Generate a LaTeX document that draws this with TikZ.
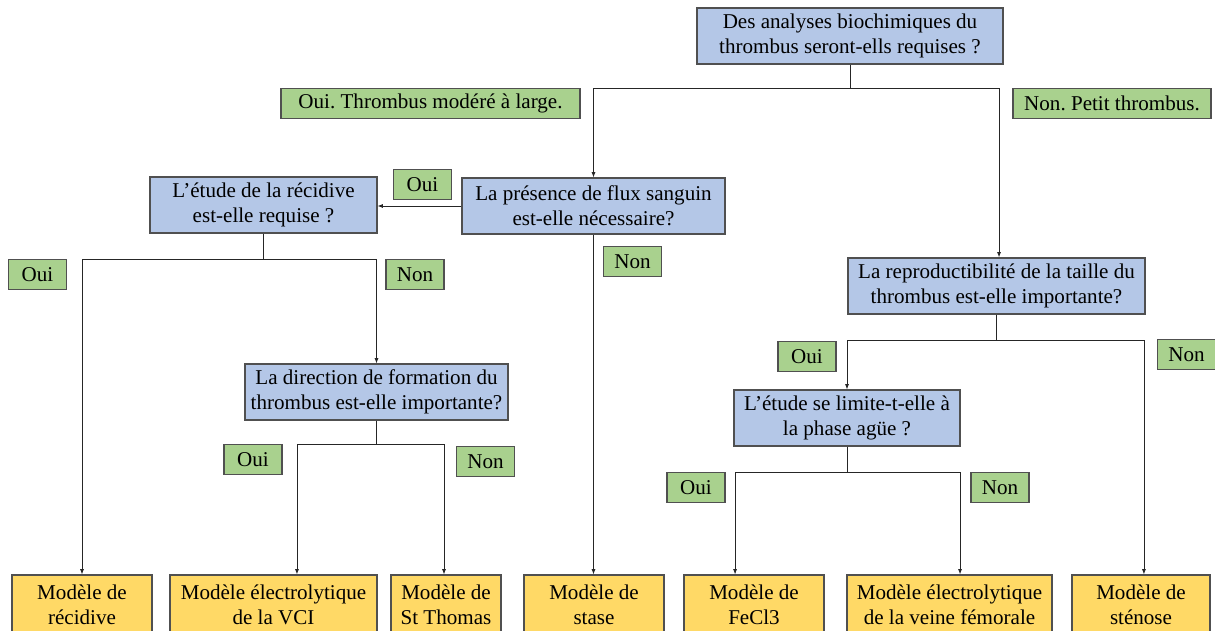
\documentclass[tikz,border=0pt]{standalone}
\usepackage{fontspec}
\setmainfont{Liberation Serif}
\frenchspacing
\usetikzlibrary{arrows.meta, positioning}
\definecolor{qblue}{HTML}{B4C7E7}
\definecolor{ansgreen}{HTML}{A9D18E}
\definecolor{modyellow}{HTML}{FFD966}
\definecolor{edgegray}{HTML}{505050}

\begin{document}
\begin{tikzpicture}[x=0.75pt, y=-0.75pt,
  every node/.style={font=\fontsize{15.8}{18.6}\selectfont, inner sep=1pt},
  question/.style={draw=edgegray, line width=0.8pt, fill=qblue, align=center, minimum height=42pt},
  answer/.style={draw=edgegray, line width=0.8pt, fill=ansgreen, minimum height=23pt, minimum width=43.5pt},
  model/.style={draw=edgegray, line width=0.8pt, fill=modyellow, align=center, minimum height=45pt},
  arr/.style={-{Latex[length=4pt,width=3pt]}, line width=0.6pt, black!85}]
\useasboundingbox (0,0) rectangle (1215,631);

% Questions
\node[question, minimum width=229.5pt] (q1) at (850,36) {Des analyses biochimiques du\\thrombus seront-ells requises ?};
\node[question, minimum width=197.25pt] (q2) at (593.5,206) {La présence de flux sanguin\\est-elle nécessaire?};
\node[question, minimum width=170.25pt] (q3) at (263.5,205) {L’étude de la récidive\\est-elle requise ?};
\node[question, minimum width=222.75pt] (q4) at (996.5,286) {La reproductibilité de la taille du\\thrombus est-elle importante?};
\node[question, minimum width=197.25pt] (q5) at (376.5,392) {La direction de formation du\\thrombus est-elle importante?};
\node[question, minimum width=169.5pt] (q6) at (847,418) {L’étude se limite-t-elle à\\la phase agüe ?};

% Answers
\node[answer, minimum width=224.25pt] (ouilarge) at (430.5,103.5) {Oui. Thrombus modéré à large.};
\node[answer, minimum width=148.5pt] (nonpetit) at (1112,103.5) {Non. Petit thrombus.};
\node[answer] (ouiflux) at (422.5,184.5) {Oui};
\node[answer] (nonflux) at (632.5,261.5) {Non};
\node[answer] (ouirec) at (37.5,274.5) {Oui};
\node[answer] (nonrec) at (415,274.5) {Non};
\node[answer] (ouirep) at (807,356.5) {Oui};
\node[answer] (nonrep) at (1186.5,354.5) {Non};
\node[answer] (ouidir) at (253,459.5) {Oui};
\node[answer] (nondir) at (485.5,461.5) {Non};
\node[answer] (ouiaig) at (696,487.5) {Oui};
\node[answer] (nonaig) at (1000,487.5) {Non};

% Models
\node[model, minimum width=105pt] (recidive) at (82,605) {Modèle de\\récidive};
\node[model, minimum width=155.25pt] (vci) at (273.5,605) {Modèle électrolytique\\de la VCI};
\node[model, minimum width=82.5pt] (thomas) at (446,605) {Modèle de\\St Thomas};
\node[model, minimum width=105pt] (stase) at (594,605) {Modèle de\\stase};
\node[model, minimum width=105pt] (fecl) at (754,605) {Modèle de\\FeCl3};
\node[model, minimum width=153.75pt] (femorale) at (949.5,605) {Modèle électrolytique\\de la veine fémorale};
\node[model, minimum width=103.5pt] (stenose) at (1141,605) {Modèle de\\sténose};

% Links
\draw[arr] (q1.south) -- ++(0,24) -| (q2.north);
\draw[arr] (q1.south) -- ++(0,24) -| ([xshift=1.9pt]q4.north);
\draw[arr] (q2.west) -- (q2.west -| q3.east);
\draw[arr] (q2.south) -- (q2.south |- stase.north);
\draw[arr] (q3.south) -- ++(0,26) -| (recidive.north);
\draw[arr] (q3.south) -- ++(0,26) -| (q5.north);
\draw[arr] (q5.south) -- ++(0,24) -| ([xshift=17.6pt]vci.north);
\draw[arr] (q5.south) -- ++(0,24) -| ([xshift=-1.5pt]thomas.north);
\draw[arr] (q4.south) -- ++(0,26) -| (q6.north);
\draw[arr] (q4.south) -- ++(0,26) -| ([xshift=2.2pt]stenose.north);
\draw[arr] (q6.south) -- ++(0,26) -| ([xshift=-14.2pt]fecl.north);
\draw[arr] (q6.south) -- ++(0,26) -| ([xshift=7.9pt]femorale.north);
\end{tikzpicture}
\end{document}
